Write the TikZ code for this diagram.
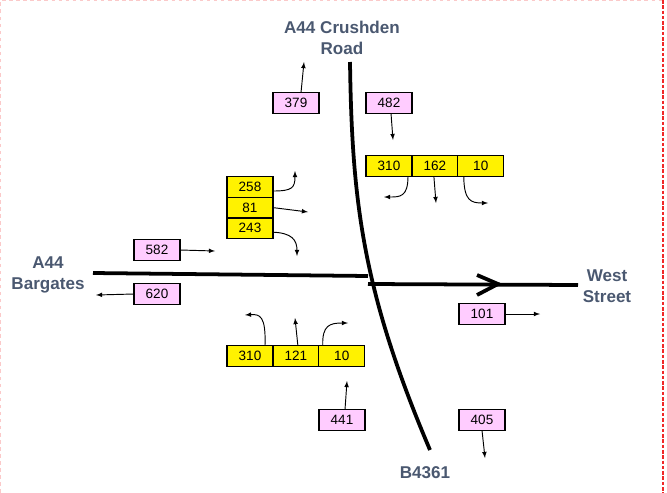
\documentclass[tikz,border=0pt]{standalone}
\usepackage{fontspec}
\setmainfont{Liberation Sans}
\definecolor{roadlabel}{RGB}{74, 88, 112}
\definecolor{countpink}{RGB}{255, 204, 255}
\definecolor{framered}{RGB}{240, 40, 40}

\begin{document}
\begin{tikzpicture}[x=0.85pt, y=-0.85pt,
    count/.style={draw, line width=1.1pt, fill=countpink, minimum width=39pt,
      minimum height=17.5pt, inner sep=0pt, outer sep=0pt,
      font=\fontsize{11.5}{13}\selectfont},
    turn/.style={count, fill=yellow},
    road/.style={line width=3.2pt},
    flow/.style={line width=0.8pt, -latex},
    place/.style={roadlabel, align=center,
      font=\fontsize{14.5}{18}\selectfont\bfseries}]
      \useasboundingbox (0,0) rectangle (667,493);
      % frame
      \draw[framered!25, dashed, line width=0.6pt] (0.5,493) -- (0.5,0.5) -- (663,0.5);
      \draw[framered, line width=1.2pt, dash pattern=on 3pt off 1.5pt] (663,0) -- (663,493);
      % roads
      \draw[road] (93,273) -- (368,276);
      \draw[road] (368,284) -- (578,285);
      \draw[road] (477,275) -- (498,284) -- (477,295);
      \draw[road] (350,62) .. controls (352,200) and (362,290) .. (430,450);
      % road names
      \node[place] (crushden) at (342,38) {A44 Crushden\\Road};
      \node[place] (bargates) at (48,275) {A44\\Bargates};
      \node[place] (west) at (607,286) {West\\Street};
      \node[place] (b4361) at (425,473) {B4361};
      % link counts
      \node[count] (c379) at (296,103) {379};
      \node[count] (c482) at (389,103) {482};
      \node[count] (c582) at (157,250) {582};
      \node[count] (c620) at (157,294) {620};
      \node[count] (c101) at (482,314) {101};
      \node[count] (c441) at (342,420) {441};
      \node[count] (c405) at (482,420) {405};
      % turning counts
      \node[turn] (w258) at (250,187) {258};
      \node[turn, anchor=north] (w81) at (w258.south) {81};
      \node[turn, anchor=north] (w243) at (w81.south) {243};
      \node[turn] (e310) at (389,166) {310};
      \node[turn, anchor=west] (e162) at (e310.east) {162};
      \node[turn, anchor=west] (e10) at (e162.east) {10};
      \node[turn] (s310) at (250,356) {310};
      \node[turn, anchor=west] (s121) at (s310.east) {121};
      \node[turn, anchor=west] (s10) at (s121.east) {10};
      % arrow ends
      \coordinate (n379) at (304,62);
      \coordinate (n482) at (393,140);
      \coordinate (n582) at (215,251);
      \coordinate (n620) at (96,295);
      \coordinate (n101) at (540,314);
      \coordinate (n441) at (347,381);
      \coordinate (n405) at (485,458);
      \coordinate (nw258) at (295,171);
      \coordinate (nw81) at (308,212);
      \coordinate (nw243) at (297,256);
      \coordinate (ne310) at (384,197);
      \coordinate (ne162) at (436,203);
      \coordinate (ne10) at (488,203);
      \coordinate (ns310) at (245,315);
      \coordinate (ns121) at (295,318);
      \coordinate (ns10) at (348,323);
      % link flows
      \draw[flow] ([shift={(5,0)}]c379.north) -- (n379);
      \draw[flow] ([shift={(2,0)}]c482.south) -- (n482);
      \draw[flow] (c582.east) -- (n582);
      \draw[flow] (c620.west) -- (n620);
      \draw[flow] (c101.east) -- (n101);
      \draw[flow] ([shift={(3,0)}]c441.north) -- (n441);
      \draw[flow] (c405.south) -- (n405);
      % turning flows
      \draw[flow] ([shift={(0,4)}]w258.east) .. controls (292,191) and (295,188) .. (nw258);
      \draw[flow] (w81.east) -- (nw81);
      \draw[flow] ([shift={(0,4)}]w243.east) .. controls (292,233) and (297,240) .. (nw243);
      \draw[flow] ([shift={(19,0)}]e310.south) .. controls (408,197) and (400,197) .. (ne310);
      \draw[flow] ([shift={(-1,0)}]e162.south) -- (ne162);
      \draw[flow] ([shift={(-17,0)}]e10.south) .. controls (464,201) and (471,203) .. (ne10);
      \draw[flow] ([shift={(15,0)}]s310.north) .. controls (266,316) and (260,314) .. (ns310);
      \draw[flow] ([shift={(2,0)}]s121.north) -- (ns121);
      \draw[flow] ([shift={(-19,0)}]s10.north) .. controls (322,325) and (330,323) .. (ns10);
    \end{tikzpicture}
\end{document}
